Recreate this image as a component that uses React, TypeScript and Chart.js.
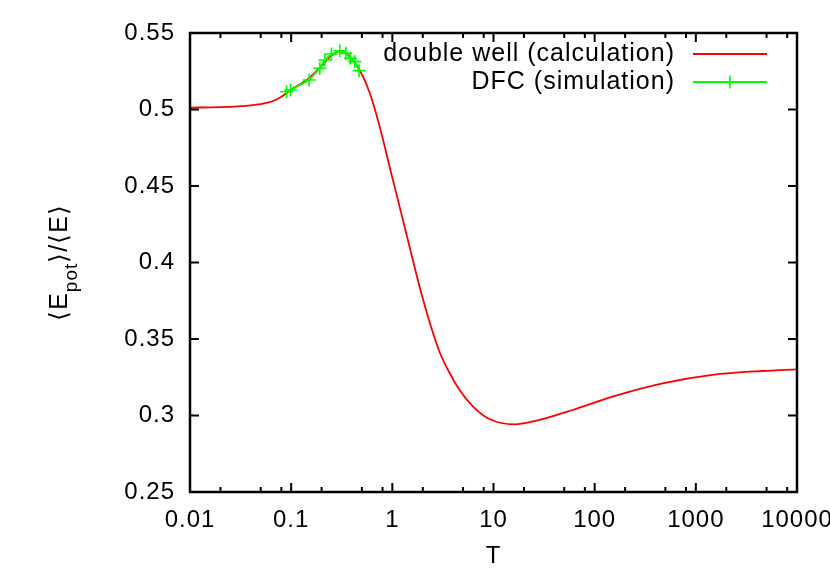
import React, { useEffect, useRef } from "react";
import { Chart, registerables } from "chart.js";

Chart.register(...registerables);

// ---- data ----
const calcT = [0.01, 0.02, 0.03, 0.04, 0.05, 0.06, 0.07, 0.08, 0.09, 0.1, 0.12, 0.15, 0.2, 0.25, 0.3, 0.35, 0.4, 0.476, 0.6, 0.75, 0.94, 1.18, 1.48, 1.86, 2.335, 2.932, 3.68, 4.62, 6.21, 9.13, 16.1, 28.4, 60.7, 150, 469, 1459, 4550, 10000];
const calcY = [0.5012, 0.5016, 0.5021, 0.5027, 0.5035, 0.5046, 0.5062, 0.5083, 0.5107, 0.5130, 0.5162, 0.5205, 0.5285, 0.5352, 0.5380, 0.5368, 0.5330, 0.5258, 0.5106, 0.4888, 0.4626, 0.4365, 0.4103, 0.3842, 0.3611, 0.3415, 0.3278, 0.3167, 0.3062, 0.2977, 0.2942, 0.2971, 0.3036, 0.3123, 0.3210, 0.3265, 0.3291, 0.3302];

const dfcT = [0.090, 0.0986, 0.1505, 0.192, 0.215, 0.250, 0.302, 0.347, 0.385, 0.425, 0.469];
const dfcY = [0.5116, 0.5127, 0.5193, 0.5269, 0.5324, 0.5363, 0.5384, 0.5367, 0.5335, 0.5313, 0.5254];

const seriesLabels = ["double well (calculation)", "DFC (simulation)"];
const xTickValues = [0.01, 0.1, 1, 10, 100, 1000, 10000];
const xMinorFactors = [2, 5, 8];
const yTickValues = [0.25, 0.3, 0.35, 0.4, 0.45, 0.5, 0.55];
const xTitle = "T";
const yTitleParts = ["\u27E8E", "pot", "\u27E9/\u27E8E\u27E9"];

const FONT = "'Liberation Sans', Arial, Helvetica, sans-serif";

const gnuplotFrame = {
  id: "gnuplotFrame",
  beforeDraw(chart: any) {
    (chart.ctx as any).letterSpacing = "1px";
  },
  afterDraw(chart: any) {
    const { ctx, chartArea: a, scales } = chart;
    const xs = scales.x;
    const ys = scales.y;
    ctx.save();
    ctx.strokeStyle = "#000";
    ctx.lineWidth = 2;
    ctx.beginPath();
    const majorLen = 9;
    const minorLen = 5;
    for (const v of xTickValues) {
      const px = xs.getPixelForValue(v);
      ctx.moveTo(px, a.bottom);
      ctx.lineTo(px, a.bottom - majorLen);
      ctx.moveTo(px, a.top);
      ctx.lineTo(px, a.top + majorLen);
    }
    for (let i = 0; i < xTickValues.length - 1; i++) {
      for (const f of xMinorFactors) {
        const px = xs.getPixelForValue(xTickValues[i] * f);
        ctx.moveTo(px, a.bottom);
        ctx.lineTo(px, a.bottom - minorLen);
        ctx.moveTo(px, a.top);
        ctx.lineTo(px, a.top + minorLen);
      }
    }
    for (const v of yTickValues) {
      const py = ys.getPixelForValue(v);
      ctx.moveTo(a.left, py);
      ctx.lineTo(a.left + majorLen, py);
      ctx.moveTo(a.right, py);
      ctx.lineTo(a.right - majorLen, py);
    }
    ctx.stroke();
    ctx.lineWidth = 2.5;
    ctx.strokeRect(a.left, a.top, a.right - a.left, a.bottom - a.top);

    // legend
    ctx.font = `25px ${FONT}`;
    ctx.fillStyle = "#000";
    ctx.textAlign = "right";
    ctx.textBaseline = "middle";
    chart.data.datasets.forEach((ds: any, i: number) => {
      const y = 54 + 28 * i;
      ctx.fillText(ds.label, 675, y);
      ctx.strokeStyle = ds.borderColor;
      ctx.lineWidth = 1.8;
      ctx.beginPath();
      ctx.moveTo(693, y);
      ctx.lineTo(767, y);
      ctx.stroke();
      if (ds.pointRadius > 0) {
        const cx = 730;
        const r = ds.pointRadius;
        ctx.lineWidth = ds.pointBorderWidth;
        ctx.beginPath();
        ctx.moveTo(cx - r, y);
        ctx.lineTo(cx + r, y);
        ctx.moveTo(cx, y - r);
        ctx.lineTo(cx, y + r);
        ctx.stroke();
      }
    });

    // y title with subscript
    ctx.translate(67, (a.top + a.bottom) / 2);
    ctx.rotate(-Math.PI / 2);
    ctx.textAlign = "left";
    ctx.textBaseline = "alphabetic";
    const fonts = [`25px ${FONT}`, `19px ${FONT}`, `25px ${FONT}`];
    const dys = [0, 10, 0];
    const widths = yTitleParts.map((t, i) => {
      ctx.font = fonts[i];
      return ctx.measureText(t).width;
    });
    const total = widths.reduce((s, w) => s + w, 0);
    let x = -total / 2;
    yTitleParts.forEach((t, i) => {
      ctx.font = fonts[i];
      ctx.fillText(t, x, dys[i]);
      x += widths[i];
    });
    ctx.restore();
  },
};

export default function App() {
  const ref = useRef<HTMLCanvasElement | null>(null);
  useEffect(() => {
    if (!ref.current) return;
    const chart = new Chart(ref.current, {
      type: "line",
      data: {
        datasets: [
          {
            label: seriesLabels[0],
            data: calcT.map((t, i) => ({ x: t, y: calcY[i] })),
            borderColor: "#ff0000",
            borderWidth: 1.8,
            pointRadius: 0,
            cubicInterpolationMode: "monotone",
            fill: false,
            order: 1,
          },
          {
            label: seriesLabels[1],
            data: dfcT.map((t, i) => ({ x: t, y: dfcY[i] })),
            borderColor: "#00ff00",
            backgroundColor: "#00ff00",
            borderWidth: 1.8,
            pointStyle: "cross",
            pointRadius: 6.5,
            pointBorderWidth: 1.6,
            pointBorderColor: "#00ff00",
            tension: 0,
            fill: false,
            order: 0,
          },
        ] as any,
      },
      options: {
        animation: false,
        responsive: false,
        devicePixelRatio: 1,
        layout: { padding: { top: 33, right: 33, left: 0, bottom: 0 }, autoPadding: false } as any,
        plugins: { legend: { display: false }, tooltip: { enabled: false } },
        scales: {
          x: {
            type: "logarithmic",
            min: 0.01,
            max: 10000,
            grid: { display: false, drawTicks: false },
            border: { display: false },
            afterBuildTicks: (s: any) => {
              s.ticks = xTickValues.map((v) => ({ value: v }));
            },
            afterFit: (s: any) => {
              s.height = 89;
              s.paddingLeft = 0;
              s.paddingRight = 0;
              s.paddingTop = 0;
              s.paddingBottom = 0;
            },
            ticks: {
              autoSkip: false,
              maxRotation: 0,
              padding: 14,
              color: "#000",
              font: { family: FONT, size: 24 },
              callback: (v: any) => String(v),
            },
            title: {
              display: true,
              text: xTitle,
              color: "#000",
              font: { family: FONT, size: 24 },
              padding: { top: 0, bottom: 10 },
            },
          },
          y: {
            type: "linear",
            min: 0.25,
            max: 0.55,
            grid: { display: false, drawTicks: false },
            border: { display: false },
            afterBuildTicks: (s: any) => {
              s.ticks = yTickValues.map((v) => ({ value: v }));
            },
            afterFit: (s: any) => {
              s.width = 190;
              s.paddingLeft = 0;
              s.paddingRight = 0;
              s.paddingTop = 0;
              s.paddingBottom = 0;
            },
            ticks: {
              padding: 15,
              color: "#000",
              font: { family: FONT, size: 24 },
              callback: (v: any) => String(Number(Number(v).toFixed(2))),
            },
          },
        },
      } as any,
      plugins: [gnuplotFrame],
    });
    return () => chart.destroy();
  }, []);
  return (
    <div style={{ position: "absolute", left: 0, top: 0, width: 830, height: 581, background: "#fff" }}>
      <canvas ref={ref} width={830} height={581} />
    </div>
  );
}
